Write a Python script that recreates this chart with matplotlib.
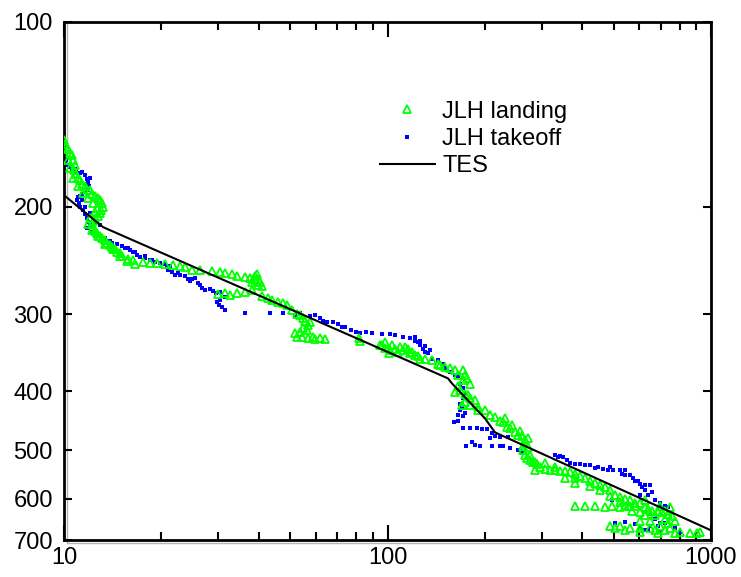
import matplotlib
matplotlib.use("Agg")
import matplotlib.pyplot as plt
from matplotlib.ticker import FixedLocator, NullLocator, LogLocator, NullFormatter

plt.rcParams["font.family"] = ["Liberation Sans", "DejaVu Sans"]

# ---- data ----
land_x = [10.0, 10.07, 10.14, 10.3, 10.43, 10.58, 10.66, 10.81, 10.74, 10.89, 11.05, 11.21, 11.37,
          11.61, 11.78, 12.03, 12.2, 12.47, 12.74, 12.92, 13.1, 13.2, 13.0, 12.92, 12.74, 12.47, 12.29,
          12.2, 12.29, 12.47, 12.65, 12.92, 13.1, 13.39, 13.58, 13.88, 14.08, 14.4, 14.59, 14.9, 15.11,
          15.77, 16.35, 17.54, 18.45, 19.39, 20.5, 21.7, 22.8, 23.6, 24.8, 26.3, 28.7, 30.4, 31.5, 33.0,
          34.3, 36.3, 37.6, 38.9, 39.5, 40.4, 39.8, 38.1, 36.3, 34.3, 32.6, 31.5, 29.9, 40.9, 42.7, 44.0,
          45.9, 47.6, 48.9, 50.7, 52.5, 53.6, 55.6, 56.7, 56.3, 53.6, 52.5, 54.4, 56.7, 59.6, 61.8, 64.1,
          81.4, 82.2, 94.8, 98.4, 102, 96, 105.4, 109.3, 111.6, 115.7, 117.4, 121.7, 126, 130.5, 137.5,
          142.8, 145.3, 150.6, 156, 161.8, 171, 173.6, 176, 171, 165, 167.5, 173.6, 180, 174, 170, 180,
          190, 200, 207.5, 215, 222.7, 227.5, 234, 239, 248, 253, 260, 266, 262, 262, 266, 270, 276, 282,
          290, 296, 286, 307, 318, 329, 341, 354, 367, 380, 380, 394, 408, 423, 438, 454, 470, 487, 505,
          523, 542, 562, 582, 603, 625, 639, 659, 685, 705, 736, 760, 773, 736, 695, 720, 685, 647, 603,
          562, 523, 487, 505, 542, 603, 802, 860, 905, 925,
          380, 408, 438, 470, 494, 523, 554, 582, 542, 570, 603, 625, 695, 720, 746,
          10.3, 10.43, 10.66, 11.05, 11.45, 11.87, 12.29, 12.65, 12.47, 12.03, 11.87, 12.2, 12.74, 13.39,
          14.2, 14.9, 15.66, 16.6, 38.9, 39.8, 38.1, 40.9, 54.8, 57.5, 54.8, 51.8, 58.7,
          98.4, 103.3, 107.7, 101, 113.3, 119, 124.5, 165, 180, 162, 177.5, 186, 190,
          230.8, 242.6, 256.8, 272, 272, 276, 286, 307, 329, 354, 380, 423, 454, 487, 523, 562, 625,
          671, 720, 647, 603, 746, 773, 671]
land_y = [156, 158, 160, 161, 163.5, 165, 168, 171, 174.4, 177, 179.7, 181, 184,
          185, 188, 188, 191, 192.3, 194, 195.3, 197.5, 200, 203, 205, 207.5, 209, 211,
          213.7, 217, 219.5, 221, 223.5, 225, 227, 229.6, 231.5, 233, 235, 237.5, 238.5, 241,
          243.8, 244.7, 246.5, 247.4, 247.4, 248.4, 249.3, 250.2, 251.2, 254, 254, 255, 256, 257, 258,
          260, 261, 262, 264, 258, 266, 269, 274, 276, 277, 279, 277, 278, 280, 282, 284,
          286.5, 287.6, 290, 295, 299, 301, 307, 312, 318, 321, 326, 327, 328, 329, 328, 329,
          328, 331, 336, 340, 343, 337, 341, 339, 343, 342, 347, 350, 354, 354, 356,
          361, 363, 366, 367, 370, 370, 376, 381, 384, 392, 399, 404, 411, 417, 422, 422,
          425, 430, 437, 441.5, 447, 450, 457, 460, 467, 471, 474, 481.5, 491, 500, 509.5, 515, 519, 523,
          527, 533, 539, 537, 539, 539, 541, 541, 543, 547, 555, 551, 555, 560, 564, 570, 574, 581, 590,
          596, 601, 603, 608, 610, 619, 622, 627, 631, 631, 636, 640, 651, 656, 665, 675, 683, 668, 668,
          670, 665, 663, 668, 675, 678, 680, 683, 683, 678,
          617, 617, 617, 619, 617, 619, 615, 615, 615, 627, 631, 638, 615, 627, 619,
          168, 173, 180, 185, 190, 194, 197.5, 201, 204, 209, 213.7, 218.6, 223.5, 230.5,
          235, 241, 245.6, 248.4, 260, 263, 266, 270, 304, 309, 316, 322, 327,
          333, 336, 346, 347, 339, 346, 351, 377, 389, 402, 406, 414, 430,
          443, 455, 464, 478, 494, 509.5, 523, 525, 533, 555, 564, 572, 581, 594, 606, 615, 603,
          638, 646, 651, 651, 668, 683, 675]

take_x = [10.0, 10.07, 10.2, 10.43, 10.58, 10.74, 10.89, 11.21, 11.61, 11.78, 11.87, 11.95, 11.87,
          11.61, 11.37, 11.05, 10.97, 11.13, 11.21, 11.45, 11.61, 11.78, 11.87, 12.03, 12.47, 12.92,
          12.2, 12.47, 12.92, 13.39, 13.88, 14.59, 15.11, 15.44, 16.0, 16.35, 16.8, 17.18, 17.8, 18.45,
          19.1, 19.8, 20.5, 20.8, 20.95, 21.56, 22.0, 22.8, 23.6, 24.5, 25.4, 24.1, 26.3, 26.7, 27.3,
          28.9, 30.4, 31.5, 30.4, 29.7, 30.1, 30.7, 31.5, 36.3, 43.4, 47.6, 51.8, 53.6, 57.5, 59.6, 61.8,
          63.4, 65.0, 67.9, 70.2, 72.3, 74, 76.9, 80, 82.2, 86, 89.5, 96, 102, 105.4, 111.6, 117.4,
          121.7, 124.5, 126, 129, 130.5, 133.6, 137.5, 142.8, 148, 150.6, 156, 161.8, 165, 167.5, 171,
          173.6, 171, 167.5, 170, 173.6, 171, 165, 160, 171, 180, 189, 196, 203, 210.5, 215, 207.5,
          222.7, 236, 183, 175, 186, 193, 210.5, 222.7, 239, 253, 260, 227.5,
          329, 336, 349, 358, 367, 380, 394, 408, 423, 438, 447, 463, 480, 498, 523, 531, 542, 562, 575,
          582, 603, 625, 647, 625, 603, 639, 671, 695, 720, 736, 625, 647, 671, 695, 685, 494, 505, 542,
          582, 603, 639, 695, 773, 802,
          10.14, 10.81, 11.37, 12.03, 11.61, 11.21, 11.37, 11.61, 12.03, 11.78, 13.39, 14.08, 15.77,
          16.6, 17.8, 18.72, 21.25, 22.5, 24.8, 25.9, 28.3, 29.4, 121.7, 126, 130.5, 135.5,
          167.5, 165, 341, 487, 542, 593, 614, 655, 695, 720, 647, 625]
take_y = [166.8, 169.3, 171, 172.5, 173.7, 174.4, 175.7, 176.4, 177.7, 180.4, 182.4, 185.2, 188,
          189.5, 191, 193, 195.3, 197.5, 200, 202.8, 206, 209, 212, 214.5, 213, 214.5,
          220, 223.5, 223.5, 227, 228, 230.5, 232, 234, 235.7, 237.5, 240, 242, 243, 244.7,
          246.5, 247.4, 248.4, 251.2, 254, 256, 259, 259, 260, 265, 262, 263, 269, 272, 274,
          275, 276, 281, 284.4, 286.5, 290, 292, 295, 298.6, 298.6, 298.6, 301, 298.6, 302, 301, 304,
          308, 309, 309, 311, 314, 315, 318, 320, 322, 321, 322, 323, 323, 324, 327, 328,
          331, 333, 337, 341, 345, 347, 354, 356, 362, 367, 373, 376, 378, 389, 396,
          404, 411, 420, 427, 434, 440, 447, 450, 459, 459, 459, 462, 462, 469, 474, 478,
          476, 476, 485, 491, 489, 491, 491, 492, 496, 500, 504, 491,
          508, 513, 513, 519, 525, 527, 527, 529, 529, 535, 533, 537, 539, 539, 539, 547, 549, 549, 555,
          560, 568, 570, 570, 581, 590, 592, 603, 615, 615, 619, 629, 636, 646, 656, 663, 603, 656, 654,
          660, 668, 675, 680, 670, 678,
          168, 173.7, 175.7, 179.7, 184, 192, 195.3, 200, 205, 217, 225, 229.6, 234,
          237.5, 241, 244.7, 250, 257, 263, 267, 273, 277, 327, 331, 338, 343,
          430, 438, 510, 533, 539, 560, 574, 585, 608, 656, 663, 675]

tes_x = [10.0, 13.2, 153.8, 158.2, 200.1, 214.9, 1000]
tes_y = [191.7, 216.1, 381.4, 388.7, 443.3, 467.2, 675]

yticks = [100, 200, 300, 400, 500, 600, 700]
xticks = [10, 100, 1000]

fig = plt.figure(figsize=(7.41, 5.77), dpi=100)
ax = fig.add_axes([0.0864, 0.0641, 0.8731, 0.8978])

# faint grey shadow lines next to the left and bottom frame
ax.plot([0.004, 0.004], [-0.006, 1], transform=ax.transAxes, color="#b4b4b4", lw=1, clip_on=False, zorder=1)
ax.plot([0.004, 1], [-0.006, -0.006], transform=ax.transAxes, color="#b4b4b4", lw=1, clip_on=False, zorder=1)

ax.plot(take_x, take_y, ls="none", marker="s", ms=3.2, mfc="#0000ff", mec="#0000ff", mew=0,
        label="JLH takeoff", zorder=2)
ax.plot(land_x, land_y, ls="none", marker="^", ms=5.5, mfc="none", mec="#00ff00", mew=1.3,
        label="JLH landing", zorder=3)
ax.plot(tes_x, tes_y, color="black", lw=1.5, label="TES", zorder=4)

ax.set_xscale("log")
ax.set_yscale("log")
ax.set_xlim(10, 1000)
ax.set_ylim(700, 100)

ax.xaxis.set_major_locator(FixedLocator(xticks))
ax.xaxis.set_minor_locator(LogLocator(base=10, subs=range(2, 10)))
ax.xaxis.set_minor_formatter(NullFormatter())
ax.set_xticklabels([str(v) for v in xticks])
ax.yaxis.set_major_locator(FixedLocator(yticks))
ax.yaxis.set_minor_locator(NullLocator())
ax.set_yticklabels([str(v) for v in yticks])

ax.tick_params(axis="both", which="both", direction="in", top=True, right=True,
               labelsize=17, width=1.5, color="black")
ax.tick_params(axis="x", which="major", length=11, pad=5)
ax.tick_params(axis="x", which="minor", length=6)
ax.tick_params(axis="y", which="major", length=6, pad=8)
for s in ax.spines.values():
    s.set_linewidth(2)

h, l = ax.get_legend_handles_labels()
order = [l.index("JLH landing"), l.index("JLH takeoff"), l.index("TES")]
ax.legend([h[i] for i in order], [l[i] for i in order], loc="upper left",
          bbox_to_anchor=(0.488, 0.848), frameon=False, fontsize=17, numpoints=1,
          handlelength=2.35, handletextpad=0.3, labelspacing=0.22, borderpad=0, borderaxespad=0)

fig.savefig("out.png", dpi=100)
